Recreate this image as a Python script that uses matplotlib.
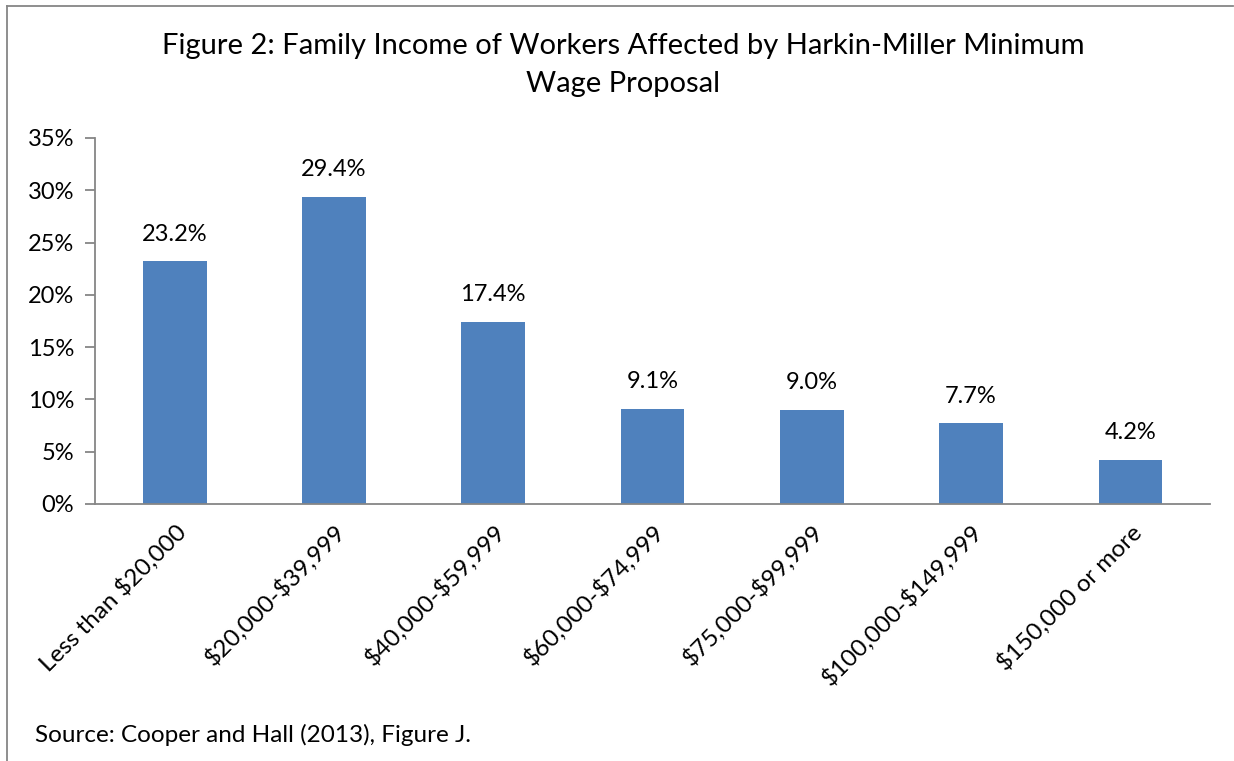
import matplotlib
matplotlib.use('Agg')
import matplotlib.pyplot as plt
from matplotlib.ticker import FuncFormatter, MultipleLocator
from matplotlib.lines import Line2D

# family income brackets and share of affected workers (%)
categories = ['Less than $20,000', '$20,000-$39,999', '$40,000-$59,999',
              '$60,000-$74,999', '$75,000-$99,999', '$100,000-$149,999',
              '$150,000 or more']
shares = [23.2, 29.4, 17.4, 9.1, 9.0, 7.7, 4.2]

plt.rcParams['font.family'] = ['Lato', 'DejaVu Sans']
plt.rcParams['text.parse_math'] = False

fig = plt.figure(figsize=(12.34, 7.61), dpi=100)
ax = fig.add_axes([95/1234, 1 - 504/761, (1210 - 95)/1234, (504 - 138)/761])

x = range(len(categories))
ax.bar(x, shares, width=0.4, color='#4f81bd', zorder=2)
for xi, v in zip(x, shares):
    ax.annotate('%.1f%%' % v, (xi, v), xytext=(0, 12), textcoords='offset points',
                ha='center', va='bottom', fontsize=17, color='black')

ax.set_xlim(-0.5, len(categories) - 0.5)
ax.set_ylim(0, 35)
ax.yaxis.set_major_locator(MultipleLocator(5))
ax.yaxis.set_major_formatter(FuncFormatter(lambda v, p: '%d%%' % v))
ax.set_xticks(list(x))
ax.set_xticklabels(categories, rotation=45, ha='right', rotation_mode='anchor')

for s in ['top', 'right']:
    ax.spines[s].set_visible(False)
for s in ['left', 'bottom']:
    ax.spines[s].set_color('#868686')
    ax.spines[s].set_linewidth(1.3)
ax.tick_params(axis='y', length=7, width=1.3, color='#868686', labelsize=17, pad=8)
ax.tick_params(axis='x', length=0, labelsize=17.5, pad=12)

fig.text(0.505, 1 - 65/761, 'Figure 2: Family Income of Workers Affected by Harkin-Miller Minimum\nWage Proposal',
         ha='center', va='center', fontsize=21, linespacing=1.55)
fig.text(35/1234, 1 - 735/761, 'Source: Cooper and Hall (2013), Figure J.',
         ha='left', va='center', fontsize=17.5)

# chart area frame
fig.add_artist(Line2D([7/1234, 7/1234], [0, 1 - 6/761], transform=fig.transFigure,
                      color='#868686', lw=1.3))
fig.add_artist(Line2D([7/1234, 1233/1234], [1 - 6/761, 1 - 6/761], transform=fig.transFigure,
                      color='#868686', lw=1.3))

fig.savefig('out.png', dpi=100, facecolor='white')
